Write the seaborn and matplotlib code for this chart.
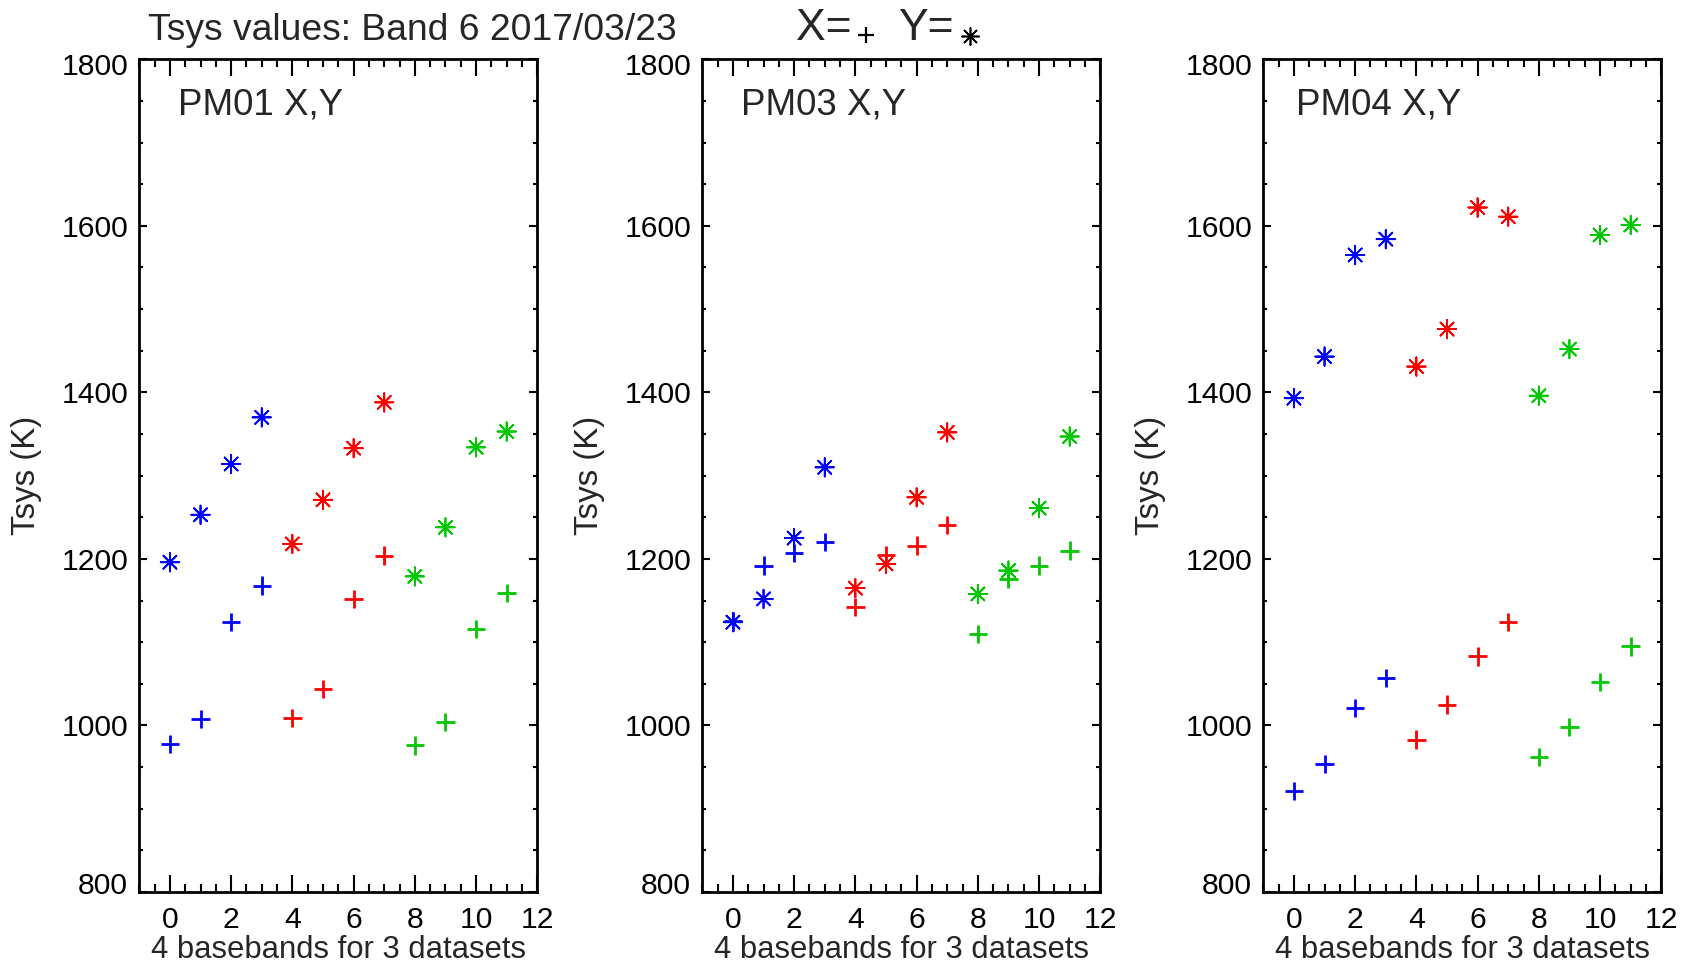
import numpy as np
import pandas as pd
import matplotlib
matplotlib.use("Agg")
import matplotlib.pyplot as plt
import seaborn as sns
from matplotlib.ticker import MultipleLocator
from matplotlib.lines import Line2D
from matplotlib.transforms import ScaledTranslation

sns.set_style("ticks")
plt.rcParams["font.family"] = ["Liberation Sans", "DejaVu Sans"]

# Tsys per baseband index (4 basebands x 3 datasets), X and Y polarisations
antennas = ["PM01", "PM03", "PM04"]
basebands = list(range(12))
dataset_names = ["ds1", "ds2", "ds3"]
dataset_colors = ["#0000ff", "#ff0000", "#00c800"]

pm01_x = [978, 1008, 1124, 1168, 1009, 1044, 1152, 1204, 976, 1004, 1116, 1159]
pm01_y = [1196, 1253, 1314, 1370, 1218, 1271, 1333, 1388, 1179, 1238, 1334, 1353]
pm03_x = [1125, 1192, 1207, 1220, 1142, 1205, 1216, 1241, 1110, 1176, 1192, 1210]
pm03_y = [1124, 1152, 1225, 1310, 1165, 1194, 1274, 1352, 1158, 1186, 1261, 1347]
pm04_x = [921, 954, 1021, 1057, 983, 1025, 1083, 1124, 962, 998, 1052, 1095]
pm04_y = [1393, 1443, 1565, 1584, 1431, 1476, 1622, 1611, 1396, 1452, 1589, 1601]

title_text = "Tsys values: Band 6 2017/03/23"
xlabel_text = "4 basebands for 3 datasets"
ylabel_text = "Tsys (K)"

pol_markers = {"X": "+", "Y": (8, 2, 0)}
pol_linewidths = {"X": 2.0, "Y": 1.3}

frames = []
for ant, xs, ys in zip(antennas, [pm01_x, pm03_x, pm04_x], [pm01_y, pm03_y, pm04_y]):
    for pol, vals in (("X", xs), ("Y", ys)):
        frames.append(pd.DataFrame({
            "antenna": ant,
            "baseband": basebands,
            "pol": pol,
            "dataset": [dataset_names[i // 4] for i in basebands],
            "tsys": vals,
        }))
df = pd.concat(frames, ignore_index=True)

W, H = 1692, 968
fig = plt.figure(figsize=(W / 100, H / 100), dpi=100)

ax_lefts = [139.3, 702.3, 1263.3]
label_x = [0.098, 0.098, 0.082]
ax_bottom, ax_top = 892.0, 59.3
ax_width = 398.0
fs_small = 21.7

axes = []
for k, ant in enumerate(antennas):
    ax = fig.add_axes([ax_lefts[k] / W, (H - ax_bottom) / H,
                       ax_width / W, (ax_bottom - ax_top) / H])
    axes.append(ax)
    for pol in ("X", "Y"):
        sub = df[(df["antenna"] == ant) & (df["pol"] == pol)]
        sns.scatterplot(data=sub, x="baseband", y="tsys",
                        hue="dataset", hue_order=dataset_names, palette=dataset_colors,
                        marker=pol_markers[pol], s=175,
                        linewidth=pol_linewidths[pol], legend=False, ax=ax)
    ax.set_xlim(-1, 12)
    ax.set_ylim(800, 1800)
    ax.xaxis.set_major_locator(MultipleLocator(2))
    ax.xaxis.set_minor_locator(MultipleLocator(0.5))
    ax.yaxis.set_major_locator(MultipleLocator(200))
    ax.yaxis.set_minor_locator(MultipleLocator(50))
    ax.tick_params(which="both", direction="in", top=True, right=True,
                   width=1.5, labelsize=fs_small, colors="black")
    ax.tick_params(axis="x", which="major", length=12.5, pad=10)
    ax.tick_params(axis="x", which="minor", length=6)
    ax.tick_params(axis="y", which="major", length=6, pad=8)
    ax.tick_params(axis="y", which="minor", length=3)
    for sp in ax.spines.values():
        sp.set_visible(True)
        sp.set_linewidth(2)
        sp.set_color("black")
    ax.set_xlabel(xlabel_text, fontsize=22.3)
    ax.set_ylabel(ylabel_text, fontsize=23.8)
    ax.xaxis.set_label_coords(0.5, -0.052)
    ax.yaxis.set_label_coords(-0.245, 0.5)
    ax.text(label_x[k], 0.945, f"{ant} X,Y", transform=ax.transAxes,
            fontsize=26.5, ha="left", va="center")

# figure title and polarisation key
fig.text(148 / W, (H - 40) / H, title_text, fontsize=26.8,
         ha="left", va="baseline")
fig.text(796 / W, (H - 40) / H, "X=", fontsize=32, ha="left", va="baseline")
fig.text(898 / W, (H - 40) / H, "Y=", fontsize=32, ha="left", va="baseline")
fig.add_artist(Line2D([866 / W], [(H - 35) / H], transform=fig.transFigure,
                      marker="+", markersize=12, markeredgewidth=1.6,
                      color="black", linestyle="none"))
fig.add_artist(Line2D([970 / W], [(H - 36) / H], transform=fig.transFigure,
                      marker=(8, 2, 0), markersize=13, markeredgewidth=1.2,
                      color="black", linestyle="none"))

# nudge the end labels of the y axis inwards
fig.canvas.draw()
for ax in axes:
    for tick in ax.yaxis.get_major_ticks():
        loc = tick.get_loc()
        if np.isclose(loc, 800):
            dy = 9.5 / 100
        elif np.isclose(loc, 1800):
            dy = -5.0 / 100
        else:
            continue
        tick.label1.set_transform(tick.label1.get_transform()
                                  + ScaledTranslation(0, dy, fig.dpi_scale_trans))

fig.savefig("out.png", dpi=100)
